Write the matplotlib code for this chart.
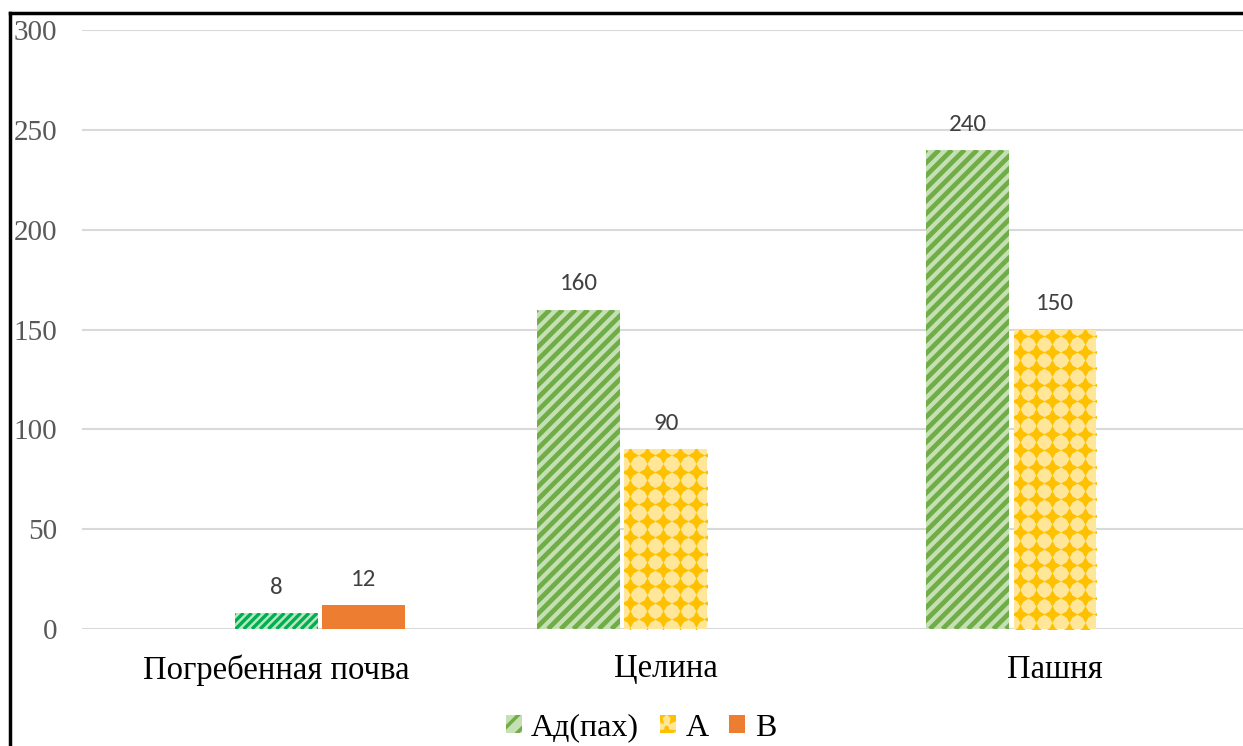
import numpy as np
import matplotlib
matplotlib.use('Agg')
import matplotlib.pyplot as plt
from matplotlib.patches import Patch
from matplotlib.lines import Line2D
from matplotlib.collections import LineCollection

# data
categories = ['Погребенная почва', 'Целина', 'Пашня']
series = ['Ад(пах)', 'А', 'В']
ad_vals = [np.nan, 160, 240]
a_vals = [8, 90, 150]
b_vals = [12, np.nan, np.nan]
yticks = [0, 50, 100, 150, 200, 250, 300]

serif = ['Liberation Serif', 'DejaVu Serif']
sans = ['Carlito', 'Open Sans', 'DejaVu Sans']

fig = plt.figure(figsize=(12.43, 7.46), dpi=100)
ax = fig.add_axes([82/1243, 1-629/746, 1-82/1243, (629-30)/746])

x = np.arange(len(categories))
slot = 0.2237
w = 0.213

ax.set_xlim(-0.5, 2.483)
ax.set_ylim(0, 300)


def stripes(bar, period, lw, col):
    # diagonal "/" stripes drawn in pixels, clipped to the bar
    (x0, y0), (x1, y1) = ax.transData.transform([(bar.get_x(), 0), (bar.get_x() + bar.get_width(), bar.get_height())])
    inv = ax.transData.inverted()
    segs = []
    c = x0 - (y1 - y0)
    while c < x1:
        p = inv.transform([(c, y0), (c + (y1 - y0), y1)])
        segs.append(p)
        c += period
    lc = LineCollection(segs, colors=col, linewidths=lw, zorder=4)
    ax.add_collection(lc)
    lc.set_clip_path(bar)


def stars(bar, step, size, col):
    (x0, y0), (x1, y1) = ax.transData.transform([(bar.get_x(), 0), (bar.get_x() + bar.get_width(), bar.get_height())])
    xs = np.arange(x0 + 6, x1 + step, step)
    ys = np.arange(y1 - 6, y0 - step, -step)
    gx, gy = np.meshgrid(xs, ys)
    pts = ax.transData.inverted().transform(np.column_stack([gx.ravel(), gy.ravel()]))
    sc = ax.scatter(pts[:, 0], pts[:, 1], s=size, marker=(4, 1, 0), color=col, linewidths=0, zorder=4)
    sc.set_clip_path(bar)


ad_bars = ax.bar(x - slot, ad_vals, w, color='#C5E0B4', zorder=3)
a_bars = ax.bar(x, a_vals, w, color='#FFE699', zorder=3)
b_bars = ax.bar(x + slot, b_vals, w, color='#ED7D31', zorder=3)
# first A point is styled green in the original
a_bars[0].set_facecolor('#B9E6C4')

for b in ad_bars[1:]:
    stripes(b, 12.7, 3.4, '#70AD47')
stripes(a_bars[0], 8.2, 2.4, '#00B050')
for b in a_bars[1:]:
    stars(b, 16.4, 150, '#FFC000')

for xs, vals in [(x - slot, ad_vals), (x, a_vals), (x + slot, b_vals)]:
    for xi, v in zip(xs, vals):
        if not np.isnan(v):
            ax.annotate(str(int(v)), (xi, v), xytext=(0, 11), textcoords='offset points',
                        ha='center', va='bottom', fontsize=18, color='#404040', family=sans)

ax.set_yticks(yticks)
ax.yaxis.grid(True, color='#D9D9D9', linewidth=1.5, zorder=0)
ax.set_axisbelow(True)
for s in ax.spines.values():
    s.set_visible(False)
ax.tick_params(axis='both', length=0)
ax.tick_params(axis='y', pad=18, labelsize=21, labelcolor='#595959')
ax.tick_params(axis='x', pad=18, labelsize=23.5, labelcolor='black')
ax.set_xticks(x)
ax.set_xticklabels(categories, family=serif)
for t in ax.get_yticklabels():
    t.set_family(serif)

plt.rcParams['hatch.linewidth'] = 2.5
handles = [Patch(facecolor='#C5E0B4', edgecolor='#70AD47', hatch='//', linewidth=0),
           Patch(facecolor='#FFE699', edgecolor='#FFC000', hatch='*', linewidth=0),
           Patch(facecolor='#ED7D31', linewidth=0)]
fig.legend(handles, series, loc='center', bbox_to_anchor=(641/1243, 1-728/746), ncol=3,
           frameon=False, prop={'family': serif, 'size': 23}, handlelength=0.5,
           handleheight=0.5, handletextpad=0.3, columnspacing=0.65, borderpad=0.1)

# frame around the picture (top and left edges visible)
fig.add_artist(Line2D([10/1243, 1], [1-13/746, 1-13/746], color='black', lw=2.5))
fig.add_artist(Line2D([10/1243, 10/1243], [0, 1-13/746], color='black', lw=2.5))

plt.savefig('out.png', dpi=100)
